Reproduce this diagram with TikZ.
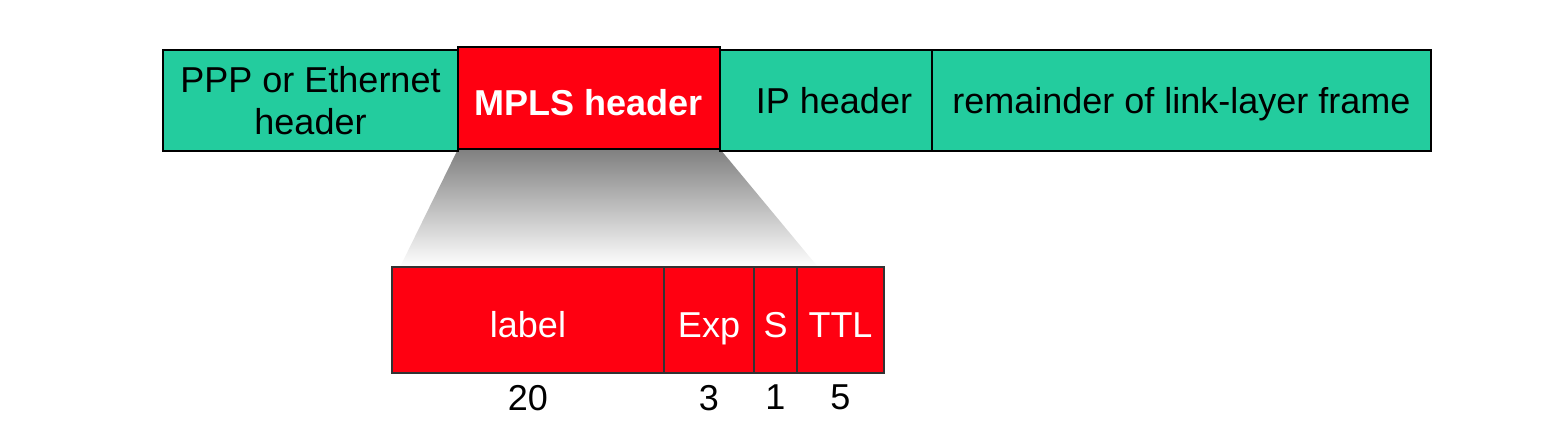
\documentclass[tikz,border=0pt]{standalone}
\usepackage{fontspec}
\setmainfont{Liberation Sans}
\usetikzlibrary{positioning,backgrounds}
\definecolor{framegreen}{RGB}{35,204,158}
\definecolor{mplsred}{RGB}{255,0,17}
\tikzset{
    field/.style = {
        draw,
        line width=1.5pt,
        inner sep=0pt,
        outer sep=0pt,
        font=\fontsize{36}{42}\selectfont,
        },
    link/.style = {
        field,
        fill = framegreen,
        minimum height=101pt,
        },
    one line/.style = {
        text height=25pt,
        text depth=0pt,
        },
    mpls/.style = {
        field,
        fill = mplsred,
        text = white,
        text height=34pt,
        text depth=0pt,
        minimum height=102pt,
        },
    shim/.style = {
        field,
        draw = black!80,
        fill = mplsred,
        text = white,
        text height=34pt,
        text depth=0pt,
        minimum height=106pt,
        },
    bits/.style = {
        font=\fontsize{36}{42}\selectfont,
        inner sep=0pt,
        },
}

\begin{document}
\begin{tikzpicture}[x=1pt,y=-1pt]
    \useasboundingbox (0,0) rectangle (1548,440);

    \node[link, align=center, minimum width=295pt, anchor=north west] (ppp) at (163,50) {PPP or Ethernet\\header};
    \node[mpls, minimum width=262pt, anchor=north west, font=\fontsize{36}{42}\selectfont\bfseries] (hdr) at (458,47) {MPLS header};
    \node[link, one line, minimum width=212pt, anchor=north west] (ip) at (hdr.north east |- ppp.north) {\hspace{16pt}IP header};
    \node[link, one line, minimum width=499pt, right=0pt of ip] (rest) {remainder of link-layer frame};

    \node[shim, minimum width=272pt, anchor=north west] (lbl) at (392,267) {label};
    \node[shim, minimum width=90pt, right=0pt of lbl] (exp) {Exp};
    \node[shim, minimum width=43pt, right=0pt of exp] (sbit) {S};
    \node[shim, minimum width=87pt, right=0pt of sbit] (ttl) {TTL};

    \node[bits, below=12pt of lbl] (w20) {20};
    \node[bits, below=12pt of exp] (w3) {3};
    \node[bits, below=12pt of sbit] (w1) {1};
    \node[bits, below=12pt of ttl] (w5) {5};

    \begin{scope}[on background layer]
        \shade[top color=black!50, bottom color=white]
            (hdr.south west) -- (hdr.south east)
            -- ([xshift=21pt]ttl.north west) -- ([xshift=8pt]lbl.north west) -- cycle;
    \end{scope}
\end{tikzpicture}
\end{document}
